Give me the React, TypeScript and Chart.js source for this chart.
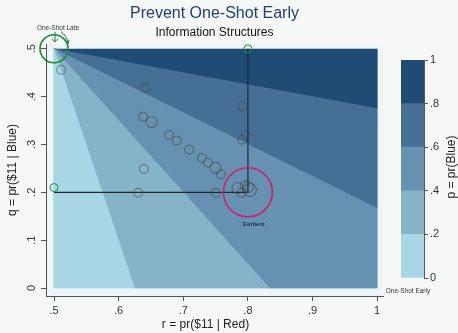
import React, { useEffect, useRef } from 'react';
import { Chart, registerables } from 'chart.js';
Chart.register(...registerables);

const FONT = "'Liberation Sans', Arial, sans-serif";
const BG = '#f6f8f8';
const PLOT_BG = '#edf5f7';

// contour levels of p = pr(Blue)
const levelBreaks = [0, 0.2, 0.4, 0.6, 0.8, 1];
const levelLabels = ['0', '.2', '.4', '.6', '.8', '1'];
const levelColors = ['#a9d6e4', '#87b3c8', '#6791b0', '#466f96', '#1f4b75'];

// contour band polygons (r, q)
const band0R = [0.5, 0.5, 0.625];
const band0Q = [0.5, 0, 0];
const band1R = [0.5, 0.625, 0.8333];
const band1Q = [0.5, 0, 0];
const band2R = [0.5, 0.8333, 1, 1];
const band2Q = [0.5, 0, 0, 0.1667];
const band3R = [0.5, 1, 1];
const band3Q = [0.5, 0.1667, 0.375];
const band4R = [0.5, 1, 1];
const band4Q = [0.5, 0.375, 0.5];

// observed choices
const obsR = [0.511, 0.641, 0.638, 0.651, 0.678, 0.690, 0.709, 0.729, 0.738, 0.750, 0.758, 0.639, 0.630, 0.750, 0.792, 0.797, 0.791, 0.784, 0.800, 0.790, 0.795, 0.803];
const obsQ = [0.456, 0.418, 0.358, 0.347, 0.320, 0.308, 0.289, 0.272, 0.262, 0.251, 0.238, 0.249, 0.199, 0.199, 0.379, 0.320, 0.310, 0.209, 0.211, 0.199, 0.215, 0.205];
const obsWeight = [1, 1, 1, 2, 1, 1, 1, 1, 1, 2, 1, 1, 1, 1, 1, 1, 1, 2, 2, 1, 1, 3];

// information structures (green)
const infoR = [0.5, 0.8, 0.5];
const infoQ = [0.5, 0.5, 0.21];
const infoSize = [14, 4, 4];

// earliest
const earliestR = [0.8];
const earliestQ = [0.2];
const linkR = [0.8, 0.8, 0.5];
const linkQ = [0.5, 0.2, 0.2];

const xTickValues = [0.5, 0.6, 0.7, 0.8, 0.9, 1];
const xTickLabels = ['.5', '.6', '.7', '.8', '.9', '1'];
const yTickValues = [0, 0.1, 0.2, 0.3, 0.4, 0.5];
const yTickLabels = ['0', '.1', '.2', '.3', '.4', '.5'];

const pts = (xs: number[], ys: number[]) => xs.map((x, i) => ({ x, y: ys[i] }));

export default function App() {
  const mainRef = useRef<HTMLCanvasElement>(null);
  const barRef = useRef<HTMLCanvasElement>(null);

  useEffect(() => {
    document.body.style.margin = '0';
    document.body.style.background = BG;

    const bands = [
      [band0R, band0Q], [band1R, band1Q], [band2R, band2Q], [band3R, band3Q], [band4R, band4Q],
    ].map(([r, q], i) => ({
      data: pts(r, q),
      showLine: true,
      fill: 'shape',
      backgroundColor: levelColors[i],
      borderColor: levelColors[i],
      borderWidth: 0.8,
      pointRadius: 0,
      tension: 0,
      order: 10,
    }));

    const bgPlugin = {
      id: 'bg',
      beforeDraw(chart: any) {
        const { ctx, chartArea: a } = chart;
        ctx.save();
        ctx.fillStyle = BG;
        ctx.fillRect(0, 0, chart.width, chart.height);
        ctx.fillStyle = PLOT_BG;
        ctx.fillRect(a.left, a.top, a.right - a.left, a.bottom - a.top);
        ctx.restore();
      },
    };

    const textPlugin = {
      id: 'texts',
      afterDraw(chart: any) {
        const { ctx, chartArea: a, scales } = chart;
        const cx = (a.left + a.right) / 2;
        ctx.save();
        ctx.textAlign = 'center';
        ctx.textBaseline = 'middle';
        ctx.fillStyle = '#1f3d7a';
        ctx.font = `16px ${FONT}`;
        ctx.fillText('Prevent One-Shot Early', cx, 14);
        ctx.fillStyle = '#111';
        ctx.font = `12px ${FONT}`;
        ctx.fillText('Information Structures', cx, 33);

        // y tick labels, vertical
        ctx.fillStyle = '#333';
        ctx.font = `11px ${FONT}`;
        yTickValues.forEach((v, i) => {
          const py = scales.y.getPixelForValue(v);
          ctx.save();
          ctx.translate(a.left - 14, py);
          ctx.rotate(-Math.PI / 2);
          ctx.fillText(yTickLabels[i], 0, 0);
          ctx.restore();
        });

        // x axis title
        ctx.fillStyle = '#222';
        ctx.font = `12px ${FONT}`;
        ctx.fillText('r = pr($11 | Red)', cx - 9, chart.height - 8);

        // One-Shot Late label and arrow
        const gx = scales.x.getPixelForValue(infoR[0]);
        const gy = scales.y.getPixelForValue(infoQ[0]);
        ctx.fillStyle = '#333';
        ctx.font = `6.5px ${FONT}`;
        ctx.fillText('One-Shot Late', gx + 4, gy - 21);
        ctx.strokeStyle = '#1e7f3a';
        ctx.lineWidth = 1;
        ctx.beginPath();
        ctx.moveTo(gx + 1, gy - 17);
        ctx.lineTo(gx + 1, gy - 7);
        ctx.moveTo(gx - 2, gy - 10);
        ctx.lineTo(gx + 1, gy - 7);
        ctx.lineTo(gx + 4, gy - 10);
        ctx.stroke();
        ctx.beginPath();
        ctx.moveTo(gx + 7, gy - 17);
        ctx.quadraticCurveTo(gx + 13, gy - 13, gx + 14, gy - 5);
        ctx.moveTo(gx + 11, gy - 8);
        ctx.lineTo(gx + 14, gy - 5);
        ctx.lineTo(gx + 15, gy - 9);
        ctx.stroke();

        // Earliest label
        const ex = scales.x.getPixelForValue(earliestR[0]);
        const ey = scales.y.getPixelForValue(earliestQ[0]);
        ctx.fillStyle = '#1c2f5a';
        ctx.font = `bold 6px ${FONT}`;
        ctx.fillText('Earliest', ex + 6, ey + 32);
        ctx.restore();
      },
    };

    const main = new Chart(mainRef.current!, {
      type: 'scatter',
      data: {
        datasets: [
          ...bands,
          {
            data: pts(linkR, linkQ),
            showLine: true,
            borderColor: '#1b2836',
            borderWidth: 1.2,
            pointRadius: 0,
            fill: false,
            order: 4,
          },
          {
            data: pts(obsR, obsQ),
            pointRadius: obsWeight.map((w) => 3.3 + w * 1.1),
            pointBackgroundColor: 'rgba(0,0,0,0)',
            pointBorderColor: 'rgba(70,70,70,0.6)',
            pointBorderWidth: 1.1,
            order: 3,
          },
          {
            data: pts(infoR, infoQ),
            pointRadius: infoSize,
            pointBackgroundColor: 'rgba(0,0,0,0)',
            pointBorderColor: '#1e8a3a',
            pointBorderWidth: [1.6, 1, 1],
            clip: false,
            order: 2,
          },
          {
            data: pts(earliestR, earliestQ),
            pointRadius: 24.5,
            pointBackgroundColor: 'rgba(0,0,0,0)',
            pointBorderColor: '#c8226e',
            pointBorderWidth: 1.6,
            clip: false,
            order: 1,
          },
        ] as any,
      },
      options: {
        responsive: false,
        animation: false,
        devicePixelRatio: 1,
        events: [],
        layout: { padding: { top: 44, right: 75, left: 0, bottom: 0 } },
        plugins: {
          legend: { display: false },
          tooltip: { enabled: false },
          title: { display: false },
        },
        scales: {
          x: {
            type: 'linear',
            min: 0.4876,
            max: 1.009,
            afterBuildTicks: (s: any) => {
              s.ticks = xTickValues.map((v) => ({ value: v }));
            },
            ticks: {
              callback: (_v: any, i: number) => xTickLabels[i],
              font: { family: FONT, size: 11 },
              color: '#333',
              padding: 3,
              autoSkip: false,
              maxRotation: 0,
            },
            grid: { display: true, drawOnChartArea: false, drawTicks: true, tickLength: 5, color: '#555' },
            border: { display: true, color: '#555', width: 1 },
            title: { display: false },
            afterFit: (s: any) => {
              s.height = 37;
            },
          },
          y: {
            type: 'linear',
            min: -0.0167,
            max: 0.51,
            afterBuildTicks: (s: any) => {
              s.ticks = yTickValues.map((v) => ({ value: v }));
            },
            ticks: { display: false },
            grid: { display: true, drawOnChartArea: false, drawTicks: true, tickLength: 5, color: '#555' },
            border: { display: true, color: '#555', width: 1 },
            title: {
              display: true,
              text: 'q = pr($11 | Blue)',
              font: { family: FONT, size: 12 },
              color: '#222',
              padding: { top: 5, bottom: 0 },
            },
            afterFit: (s: any) => {
              s.width = 46;
            },
          },
        },
      } as any,
      plugins: [bgPlugin, textPlugin],
    });

    const barText = {
      id: 'barText',
      afterDraw(chart: any) {
        const { ctx, chartArea: a } = chart;
        ctx.save();
        ctx.textAlign = 'center';
        ctx.textBaseline = 'middle';
        ctx.fillStyle = '#222';
        ctx.font = `12px ${FONT}`;
        ctx.translate(72, (a.top + a.bottom) / 2 - 2);
        ctx.rotate(-Math.PI / 2);
        ctx.fillText('p = pr(Blue)', 0, 0);
        ctx.restore();
        ctx.save();
        ctx.textAlign = 'center';
        ctx.textBaseline = 'middle';
        ctx.fillStyle = '#333';
        ctx.font = `6.5px ${FONT}`;
        ctx.fillText('One-Shot Early', 28, a.bottom + 13);
        ctx.restore();
      },
    };

    const bar = new Chart(barRef.current!, {
      type: 'bar',
      data: {
        labels: [''],
        datasets: levelColors.map((c, i) => ({
          data: [levelBreaks[i + 1] - levelBreaks[i]],
          backgroundColor: c,
          borderWidth: 0,
          barPercentage: 1,
          categoryPercentage: 1,
        })),
      },
      options: {
        responsive: false,
        animation: false,
        devicePixelRatio: 1,
        events: [],
        layout: { padding: { top: 20, left: 21, right: 0, bottom: 22 } },
        plugins: { legend: { display: false }, tooltip: { enabled: false } },
        scales: {
          x: { display: false, stacked: true },
          y: {
            stacked: true,
            position: 'right',
            min: 0,
            max: 1,
            afterBuildTicks: (s: any) => {
              s.ticks = levelBreaks.map((v) => ({ value: v }));
            },
            ticks: {
              callback: (_v: any, i: number) => levelLabels[i],
              font: { family: FONT, size: 11 },
              color: '#333',
              padding: 2,
            },
            grid: { display: true, drawOnChartArea: false, drawTicks: true, tickLength: 4, color: '#555' },
            border: { display: true, color: '#555', width: 1 },
            afterFit: (s: any) => {
              s.width = 34;
            },
          },
        },
      } as any,
      plugins: [barText],
    });

    return () => {
      main.destroy();
      bar.destroy();
    };
  }, []);

  return (
    <div style={{ position: 'relative', width: 458, height: 333, background: BG }}>
      <canvas ref={mainRef} width={458} height={333} style={{ position: 'absolute', left: 0, top: 0 }} />
      <canvas ref={barRef} width={78} height={260} style={{ position: 'absolute', left: 380, top: 40 }} />
    </div>
  );
}
